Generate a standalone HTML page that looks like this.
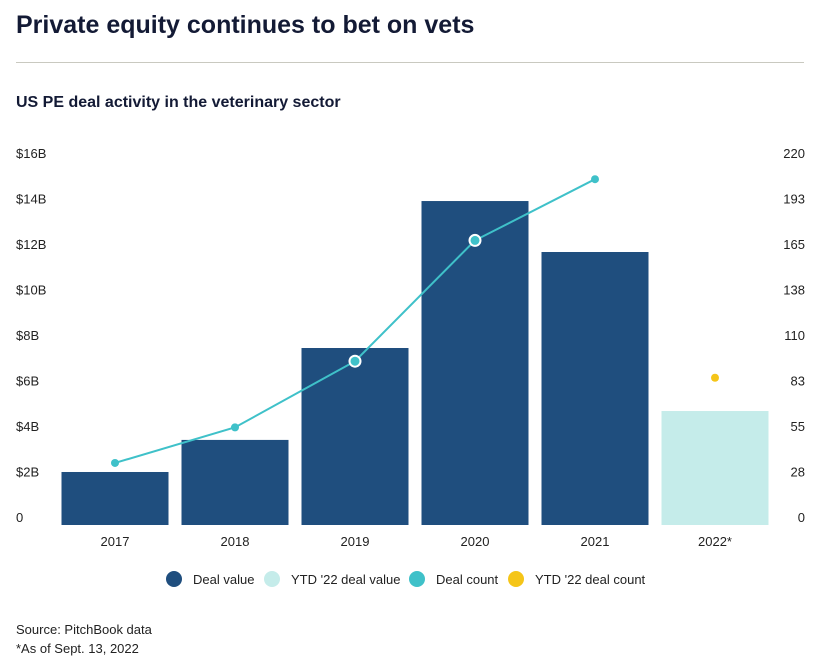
<!DOCTYPE html>
<html><head><meta charset="utf-8"><style>
body{margin:0;width:840px;height:664px;background:#fff;font-family:"Liberation Sans",sans-serif;overflow:hidden;position:relative}
.t{position:absolute;left:16px;top:11px;font-size:25px;font-weight:bold;color:#131a35}
.rule{position:absolute;left:16px;top:62px;width:788px;height:1px;background:#c9c9c0}
.s{position:absolute;left:16px;top:94px;font-size:16px;font-weight:bold;color:#131a35}
.src{position:absolute;left:16px;font-size:13px;color:#222}
</style></head><body>
<div class="t">Private equity continues to bet on vets</div>
<div class="rule"></div>
<div class="s">US PE deal activity in the veterinary sector</div>
<svg id="c" width="840" height="600" style="position:absolute;left:0;top:0"></svg>
<div class="src" style="top:622px">Source: PitchBook data</div>
<div class="src" style="top:641px">*As of Sept. 13, 2022</div>
<script>
const categories=["2017","2018","2019","2020","2021","2022*"];
const dealValue=[2.33,3.74,7.78,14.24,12.0,5.01];
const dealCount=[37.5,59,99,172,209,89];
const leftTicks=[0,2,4,6,8,10,12,14,16];
const leftLabels=["0","$2B","$4B","$6B","$8B","$10B","$12B","$14B","$16B"];
const rightLabels=["0","28","55","83","110","138","165","193","220"];
const NS="http://www.w3.org/2000/svg";
const svg=document.getElementById('c');
const y0=525,yTop=161,x0=55,band=120,bw=107;
const yL=v=>y0-(v/16)*(y0-yTop);
const yR=v=>y0-(v/220)*(y0-yTop);
const xc=i=>x0+band*i+band/2;
function mk(t,a,txt){const e=document.createElementNS(NS,t);for(const k in a)e.setAttribute(k,a[k]);if(txt!==undefined)e.textContent=txt;svg.appendChild(e);return e;}
leftTicks.forEach((v,i)=>{
 const a=mk('text',{x:16,y:yL(v)-3,'font-size':13,fill:'#222'},leftLabels[i]);
 
 
 const b=mk('text',{x:805,y:yL(v)-3,'font-size':13,fill:'#222','text-anchor':'end'},rightLabels[i]);
 
 
});
categories.forEach((c,i)=>{
 const last=i===categories.length-1;
 const r=mk('rect',{x:xc(i)-bw/2,y:yL(dealValue[i]),width:bw,height:y0-yL(dealValue[i]),fill:last?'#c5ecea':'#1f4e7e'});
 
 
 const l=mk('text',{x:xc(i),y:546,'font-size':13,fill:'#222','text-anchor':'middle'},c);
 
 
});
const n=categories.length-1;
let d='';for(let i=0;i<n;i++)d+=(i?'L':'M')+xc(i)+','+yR(dealCount[i]);
const ln=mk('path',{d:d,fill:'none',stroke:'#3fc1c9','stroke-width':2});


for(let i=0;i<n;i++){
 const big=(i===2||i===3);
 const p=mk('circle',{cx:xc(i),cy:yR(dealCount[i]),r:big?5.5:4,fill:'#3fc1c9',stroke:big?'#fff':'none','stroke-width':2});
 
 
}
const yp=mk('circle',{cx:xc(n),cy:yR(dealCount[n]),r:4,fill:'#f5c518'});


const leg=[["Deal value","#1f4e7e",174],["YTD '22 deal value","#c5ecea",272],["Deal count","#3fc1c9",417],["YTD '22 deal count","#f5c518",516]];
leg.forEach(g=>{
 const c=mk('circle',{cx:g[2],cy:579,r:8,fill:g[1]});
 
 
 const t=mk('text',{x:g[2]+19,y:584,'font-size':13,fill:'#222'},g[0]);
 
 
});
</script>
</body></html>
